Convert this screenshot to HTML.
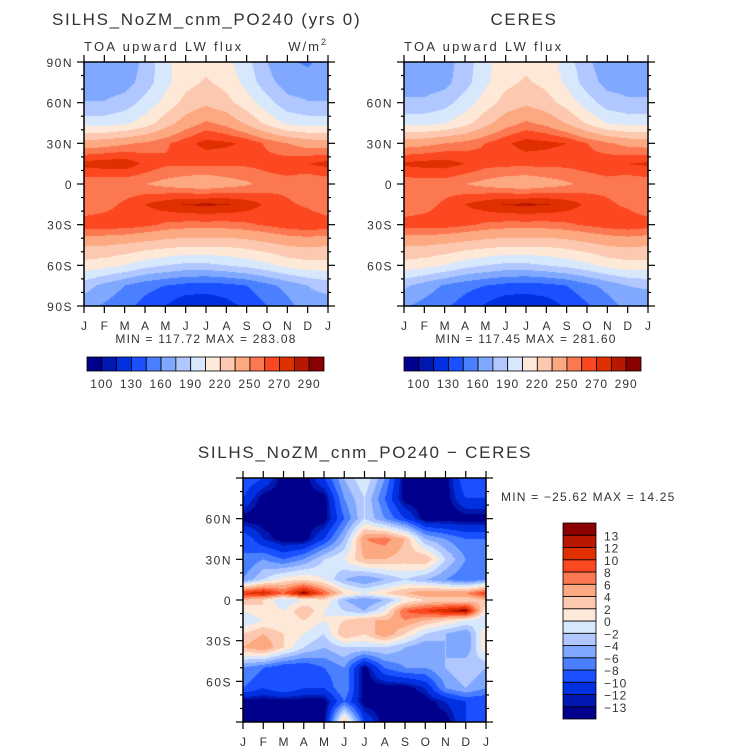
<!DOCTYPE html>
<html><head><meta charset="utf-8">
<style>
body{margin:0;background:#fff;width:733px;height:751px;position:relative;overflow:hidden;font-family:"Liberation Sans",sans-serif;}
canvas{position:absolute;}
svg{position:absolute;left:0;top:0;}
</style></head>
<body>
<canvas id="c1" width="244" height="244" style="left:84px;top:62px"></canvas>
<canvas id="c2" width="244" height="244" style="left:404px;top:62px"></canvas>
<canvas id="c3" width="243" height="244" style="left:243px;top:478px"></canvas>
<svg id="s" width="733" height="751"></svg>
<script>
const months=["J","F","M","A","M","J","J","A","S","O","N","D","J"];
const palette=["#00008c","#0018b0","#0030e0","#1a50ff","#4a80ff","#80a8ff","#b0c8ff","#d8e8fc","#fee8d8","#fdc8b0","#fca880","#fb7850","#fb4820","#e03000","#b81800","#8b0000"];
const levelsTop=[100,115,130,145,160,175,190,205,220,235,250,260,270,280,290];
const levelsTopLabels=["100","130","160","190","220","250","270","290"];
const levelsDiff=[-13,-12,-10,-8,-6,-4,-2,0,2,4,6,8,10,12,13];
const latsTop=[90,75,60,45,30,15,0,-15,-30,-45,-60,-75,-90];
const modelVals=[
[165,163,162,180,200,215,215,210,195,175,162,158,165],
[166,165,168,182,200,215,222,215,200,180,168,166,166],
[176,176,182,195,210,225,232,225,212,196,180,176,176],
[198,198,202,212,228,242,252,246,232,216,202,198,198],
[242,244,248,252,258,266,274,272,268,258,250,244,242],
[274,276,277,268,262,262,262,262,262,264,266,270,274],
[252,252,252,250,246,242,240,244,248,254,256,250,252],
[252,256,262,270,276,281,282,281,276,268,262,258,252],
[266,266,266,263,258,256,256,256,258,262,266,268,266],
[236,236,233,229,226,223,223,223,226,231,236,238,236],
[214,211,205,196,190,186,186,190,195,201,210,214,214],
[182,170,160,150,145,140,138,140,145,155,165,175,182],
[165,158,150,140,130,118,118,124,134,145,155,168,165]];
const ceresVals=[
[166,165,168,182,200,214,216,212,198,178,166,163,166],
[168,167,170,184,202,216,222,216,202,182,170,168,168],
[178,178,184,197,212,226,232,226,214,198,182,178,178],
[200,200,204,214,230,244,252,246,234,218,204,200,200],
[244,246,250,254,260,268,275,273,270,260,252,246,244],
[272,274,275,270,264,263,263,263,263,265,267,270,272],
[254,254,254,250,246,242,240,244,248,253,256,252,254],
[252,256,262,270,276,281,282,281,276,268,262,258,252],
[265,265,265,262,258,256,256,256,258,262,265,267,265],
[236,236,233,229,226,223,223,223,226,231,236,238,236],
[214,211,205,196,190,186,186,190,195,201,210,214,214],
[178,168,158,150,145,140,138,140,145,155,165,175,178],
[162,155,148,138,128,118,118,122,132,143,153,165,162]];
const latsDiff=[90,75,60,45,30,15,5,0,-8,-15,-25,-35,-50,-65,-75,-90];
const diffVals=[
[-8,-10,-14,-14,-10,-4,0,-6,-14,-14,-14,-8,-8],
[-10,-14,-14,-14,-14,-6,-2,-8,-14,-14,-14,-10,-10],
[-14,-14,-14,-14,-14,-8,-2,-6,-10,-14,-14,-14,-14],
[-8,-12,-14,-14,-10,-4,6,7,4,-4,-6,-8,-8],
[-8,-6,-8,-6,-2,0,4,4,3,4,-2,-6,-8],
[-6,-2,1,2,0,-4,-6,-4,-2,-4,-6,-8,-6],
[10,12,8,14,8,2,0,2,4,6,6,6,10],
[4,2,-2,0,2,-4,-6,-4,0,2,2,2,4],
[0,2,0,4,0,-2,-4,0,8,10,12,14,0],
[-2,0,0,2,0,2,4,4,6,4,2,0,-2],
[2,4,2,0,-2,4,2,6,2,-2,-4,-6,2],
[4,6,2,-2,-4,-2,-2,-2,-4,-6,-4,-6,2],
[-6,-8,-10,-10,-8,-6,-14,-8,-6,-6,-4,-2,-4],
[-8,-10,-8,-10,-10,-6,-14,-14,-14,-12,-6,-4,-6],
[-14,-14,-14,-14,-14,-8,-14,-14,-14,-14,-12,-10,-10],
[-14,-14,-14,-14,-14,4,-10,-14,-14,-14,-14,-10,-10]];

function hex(c){return [parseInt(c.substr(1,2),16),parseInt(c.substr(3,2),16),parseInt(c.substr(5,2),16)];}
const pal=palette.map(hex);
function drawField(id,lats,vals,levels){
  const cv=document.getElementById(id),ctx=cv.getContext('2d'),W=cv.width,H=cv.height;
  const img=ctx.createImageData(W,H);
  for(let py=0;py<H;py++){
    const lat=90-180*(py+0.5)/H;
    let r=0;while(r<lats.length-2&&lats[r+1]>lat)r++;
    const ty=(lats[r]-lat)/(lats[r]-lats[r+1]);
    for(let px=0;px<W;px++){
      const xm=12*(px+0.5)/W;let c=Math.min(11,Math.floor(xm));const tx=xm-c;
      const v=(1-ty)*((1-tx)*vals[r][c]+tx*vals[r][c+1])+ty*((1-tx)*vals[r+1][c]+tx*vals[r+1][c+1]);
      let k=0;while(k<levels.length&&v>=levels[k])k++;
      const col=pal[k],i=(py*W+px)*4;
      img.data[i]=col[0];img.data[i+1]=col[1];img.data[i+2]=col[2];img.data[i+3]=255;
    }
  }
  ctx.putImageData(img,0,0);
}
drawField('c1',latsTop,modelVals,levelsTop);
drawField('c2',latsTop,ceresVals,levelsTop);
drawField('c3',latsDiff,diffVals,levelsDiff);

const S=document.getElementById('s'),NS="http://www.w3.org/2000/svg";
function el(tag,attrs,txt){const e=document.createElementNS(NS,tag);for(const k in attrs)e.setAttribute(k,attrs[k]);if(txt!==undefined)e.textContent=txt;S.appendChild(e);return e;}
function text(x,y,s,size,anchor,name,ls){const t=el('text',{x:x,y:y,'font-size':size,'text-anchor':anchor||'start',fill:'#333','letter-spacing':ls||0,'font-family':'Liberation Sans, sans-serif'},s);

return t;}
function axes(x0,y0,W,H,latLabels,pre){
  const r=el('rect',{x:x0,y:y0,width:W,height:H,fill:'none',stroke:'#000','stroke-width':1.5});
  
  
  const g=el('g',{stroke:'#000','stroke-width':1.2});
  
  
  for(let m=0;m<=12;m++){const x=x0+W*m/12;
    [[y0,y0-7],[y0+H,y0+H+7]].forEach(a=>{const l=document.createElementNS(NS,'line');l.setAttribute('x1',x);l.setAttribute('x2',x);l.setAttribute('y1',a[0]);l.setAttribute('y2',a[1]);g.appendChild(l);});
    text(x,y0+H+24,months[m],12,'middle',pre+'-x-label');}
  for(let lat=90;lat>=-90;lat-=10){const y=y0+H*(90-lat)/180,len=lat%30===0?7:3;
    [[x0,x0-len],[x0+W,x0+W+len]].forEach(a=>{const l=document.createElementNS(NS,'line');l.setAttribute('x1',a[0]);l.setAttribute('x2',a[1]);l.setAttribute('y1',y);l.setAttribute('y2',y);g.appendChild(l);});}
  latLabels.forEach(lat=>{const y=y0+H*(90-lat)/180;const s=lat===0?'0':(Math.abs(lat)+(lat>0?'N':'S'));text(x0-11,y+5,s,12,'end',pre+'-y-label',1.5);});
}
function hbar(x0,y0,W,H,pre){
  const n=palette.length,w=W/n;
  palette.forEach((c,i)=>{const r=el('rect',{x:x0+i*w,y:y0,width:w,height:H,fill:c,stroke:'#000','stroke-width':0.8});
    
    });
  levelsTopLabels.forEach((s,j)=>{text(x0+w*(1+2*j),y0+H+17,s,12,'middle',pre+'-label',1);});
}
// top left
text(52,25,"SILHS_NoZM_cnm_PO240 (yrs 0)",17,'start','model-title',1.7);
text(84,51,"TOA upward LW flux",13,'start','model-subtitle',2.3);
const u=text(328,51,"W/m",13,'end','model-units',2);
const sup=document.createElementNS(NS,'tspan');sup.setAttribute('font-size','9');sup.setAttribute('dy','-6');sup.textContent='2';u.appendChild(sup);
axes(84,62,244,244,[90,60,30,0,-30,-60,-90],'model');
text(206,343,"MIN = 117.72 MAX = 283.08",12,'middle','model-minmax',1.2);
hbar(87,357,237,14,'model-colorbar');
// top right
text(524,25,"CERES",17,'middle','ceres-title',1.7);
text(404,51,"TOA upward LW flux",13,'start','ceres-subtitle',2.3);
axes(404,62,244,244,[60,30,0,-30,-60],'ceres');
text(526,343,"MIN = 117.45 MAX = 281.60",12,'middle','ceres-minmax',1.2);
hbar(404,357,237,14,'ceres-colorbar');
// bottom
text(365,458,"SILHS_NoZM_cnm_PO240 \u2212 CERES",17,'middle','diff-title',1.7);
axes(243,478,243,244,[60,30,0,-30,-60],'diff');
text(501,501,"MIN = \u221225.62 MAX =  14.25",12,'start','diff-minmax',1.2);
(function(){const x0=563,y0=523,W=33,H=196,n=palette.length,h=H/n;
  for(let i=0;i<n;i++){const r=el('rect',{x:x0,y:y0+H-(i+1)*h,width:W,height:h,fill:palette[i],stroke:'#000','stroke-width':0.8});
    
    }
  levelsDiff.forEach((v,i)=>{text(x0+W+8,y0+H-(i+1)*h+5,v<0?'\u2212'+Math.abs(v):String(v),12,'start','diff-colorbar-label',1);});
})();
</script>
</body></html>
